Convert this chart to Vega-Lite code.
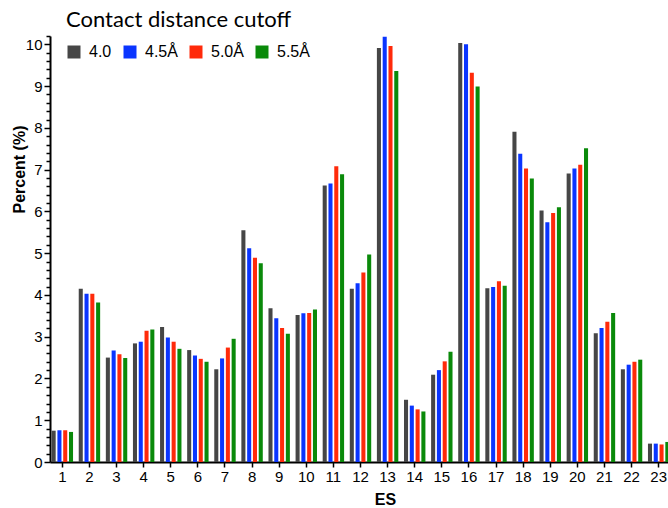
{
  "$schema": "https://vega.github.io/schema/vega-lite/v6.json",
  "width": 621,
  "height": 426,
  "autosize": {"type": "none"},
  "padding": {"left": 50, "top": 36, "right": 0, "bottom": 46},
  "background": "white",
  "config": {
    "view": {"stroke": null},
    "axis": {"labelFont": "Liberation Sans", "titleFont": "Liberation Sans", "labelColor": "black", "titleColor": "black", "domainColor": "black", "tickColor": "black", "grid": false}
  },
  "data": {"values": [
    {"ES":1,"cut":"4.0","v":0.75},{"ES":1,"cut":"4.5Å","v":0.76},{"ES":1,"cut":"5.0Å","v":0.76},{"ES":1,"cut":"5.5Å","v":0.72},
    {"ES":2,"cut":"4.0","v":4.15},{"ES":2,"cut":"4.5Å","v":4.03},{"ES":2,"cut":"5.0Å","v":4.03},{"ES":2,"cut":"5.5Å","v":3.82},
    {"ES":3,"cut":"4.0","v":2.50},{"ES":3,"cut":"4.5Å","v":2.67},{"ES":3,"cut":"5.0Å","v":2.58},{"ES":3,"cut":"5.5Å","v":2.49},
    {"ES":4,"cut":"4.0","v":2.84},{"ES":4,"cut":"4.5Å","v":2.88},{"ES":4,"cut":"5.0Å","v":3.14},{"ES":4,"cut":"5.5Å","v":3.17},
    {"ES":5,"cut":"4.0","v":3.23},{"ES":5,"cut":"4.5Å","v":2.98},{"ES":5,"cut":"5.0Å","v":2.88},{"ES":5,"cut":"5.5Å","v":2.71},
    {"ES":6,"cut":"4.0","v":2.68},{"ES":6,"cut":"4.5Å","v":2.55},{"ES":6,"cut":"5.0Å","v":2.47},{"ES":6,"cut":"5.5Å","v":2.40},
    {"ES":7,"cut":"4.0","v":2.22},{"ES":7,"cut":"4.5Å","v":2.48},{"ES":7,"cut":"5.0Å","v":2.74},{"ES":7,"cut":"5.5Å","v":2.95},
    {"ES":8,"cut":"4.0","v":5.55},{"ES":8,"cut":"4.5Å","v":5.12},{"ES":8,"cut":"5.0Å","v":4.89},{"ES":8,"cut":"5.5Å","v":4.76},
    {"ES":9,"cut":"4.0","v":3.68},{"ES":9,"cut":"4.5Å","v":3.44},{"ES":9,"cut":"5.0Å","v":3.21},{"ES":9,"cut":"5.5Å","v":3.07},
    {"ES":10,"cut":"4.0","v":3.52},{"ES":10,"cut":"4.5Å","v":3.56},{"ES":10,"cut":"5.0Å","v":3.57},{"ES":10,"cut":"5.5Å","v":3.65},
    {"ES":11,"cut":"4.0","v":6.62},{"ES":11,"cut":"4.5Å","v":6.67},{"ES":11,"cut":"5.0Å","v":7.08},{"ES":11,"cut":"5.5Å","v":6.89},
    {"ES":12,"cut":"4.0","v":4.15},{"ES":12,"cut":"4.5Å","v":4.28},{"ES":12,"cut":"5.0Å","v":4.54},{"ES":12,"cut":"5.5Å","v":4.97},
    {"ES":13,"cut":"4.0","v":9.91},{"ES":13,"cut":"4.5Å","v":10.18},{"ES":13,"cut":"5.0Å","v":9.96},{"ES":13,"cut":"5.5Å","v":9.36},
    {"ES":14,"cut":"4.0","v":1.49},{"ES":14,"cut":"4.5Å","v":1.35},{"ES":14,"cut":"5.0Å","v":1.26},{"ES":14,"cut":"5.5Å","v":1.21},
    {"ES":15,"cut":"4.0","v":2.09},{"ES":15,"cut":"4.5Å","v":2.20},{"ES":15,"cut":"5.0Å","v":2.41},{"ES":15,"cut":"5.5Å","v":2.64},
    {"ES":16,"cut":"4.0","v":10.03},{"ES":16,"cut":"4.5Å","v":10.00},{"ES":16,"cut":"5.0Å","v":9.32},{"ES":16,"cut":"5.5Å","v":8.99},
    {"ES":17,"cut":"4.0","v":4.16},{"ES":17,"cut":"4.5Å","v":4.19},{"ES":17,"cut":"5.0Å","v":4.33},{"ES":17,"cut":"5.5Å","v":4.22},
    {"ES":18,"cut":"4.0","v":7.91},{"ES":18,"cut":"4.5Å","v":7.38},{"ES":18,"cut":"5.0Å","v":7.03},{"ES":18,"cut":"5.5Å","v":6.79},
    {"ES":19,"cut":"4.0","v":6.02},{"ES":19,"cut":"4.5Å","v":5.74},{"ES":19,"cut":"5.0Å","v":5.96},{"ES":19,"cut":"5.5Å","v":6.10},
    {"ES":20,"cut":"4.0","v":6.91},{"ES":20,"cut":"4.5Å","v":7.03},{"ES":20,"cut":"5.0Å","v":7.12},{"ES":20,"cut":"5.5Å","v":7.51},
    {"ES":21,"cut":"4.0","v":3.08},{"ES":21,"cut":"4.5Å","v":3.21},{"ES":21,"cut":"5.0Å","v":3.36},{"ES":21,"cut":"5.5Å","v":3.57},
    {"ES":22,"cut":"4.0","v":2.22},{"ES":22,"cut":"4.5Å","v":2.33},{"ES":22,"cut":"5.0Å","v":2.40},{"ES":22,"cut":"5.5Å","v":2.45},
    {"ES":23,"cut":"4.0","v":0.44},{"ES":23,"cut":"4.5Å","v":0.44},{"ES":23,"cut":"5.0Å","v":0.42},{"ES":23,"cut":"5.5Å","v":0.48}
  ]},
  "mark": {"type": "bar", "clip": false},
  "encoding": {
    "x": {
      "field": "ES", "type": "ordinal",
      "scale": {"paddingInner": 0.21, "paddingOuter": 0.06},
      "axis": {"title": "ES", "titleFontSize": 16, "titleFontWeight": "bold", "titlePadding": 7, "titleX": 335, "titleAlign": "center", "labelAngle": 0, "labelFontSize": 15, "labelPadding": 2, "tickSize": 5, "tickWidth": 1.5, "domainWidth": 2}
    },
    "xOffset": {"field": "cut", "type": "nominal", "sort": ["4.0", "4.5Å", "5.0Å", "5.5Å"], "scale": {"paddingInner": 0.3, "paddingOuter": 0}},
    "y": {
      "field": "v", "type": "quantitative",
      "scale": {"domain": [0, 10.2], "nice": false},
      "axis": {
        "title": "Percent (%)", "titleFontSize": 16, "titleFontWeight": "bold",
        "titleX": -31, "titleY": 133, "titleAngle": -90, "titleAlign": "center", "titleBaseline": "middle",
        "values": [0,0.2,0.4,0.6,0.8,1,1.2,1.4,1.6,1.8,2,2.2,2.4,2.6,2.8,3,3.2,3.4,3.6,3.8,4,4.2,4.4,4.6,4.8,5,5.2,5.4,5.6,5.8,6,6.2,6.4,6.6,6.8,7,7.2,7.4,7.6,7.8,8,8.2,8.4,8.6,8.8,9,9.2,9.4,9.6,9.8,10,10.2],
        "labelExpr": "abs(datum.value - round(datum.value)) < 0.001 ? format(datum.value, 'd') : ''",
        "labelOverlap": false, "labelFontSize": 15, "labelPadding": 2, "labelBound": false, "labelFlush": false,
        "tickSize": {"condition": {"test": "abs(datum.value - round(datum.value)) < 0.001", "value": 6}, "value": 4},
        "tickWidth": 1.5, "domainWidth": 2
      }
    },
    "color": {
      "field": "cut", "type": "nominal",
      "sort": ["4.0", "4.5Å", "5.0Å", "5.5Å"],
      "scale": {"domain": ["4.0", "4.5Å", "5.0Å", "5.5Å"], "range": ["#464646", "#0a35ff", "#ff2a0a", "#0a8a0a"]},
      "legend": {
        "title": "Contact distance cutoff", "titleFont": "Lato", "titleFontSize": 22, "titleFontWeight": "normal", "titleColor": "black", "titlePadding": 12, "titleLimit": 500,
        "orient": "none", "legendX": 16, "legendY": -26, "direction": "horizontal",
        "symbolType": "square", "symbolSize": 169, "symbolStrokeWidth": 0, "symbolOpacity": 1,
        "labelFont": "Liberation Sans", "labelFontSize": 16, "labelColor": "black", "labelOffset": 7, "columnPadding": 10, "padding": 0
      }
    }
  }
}
